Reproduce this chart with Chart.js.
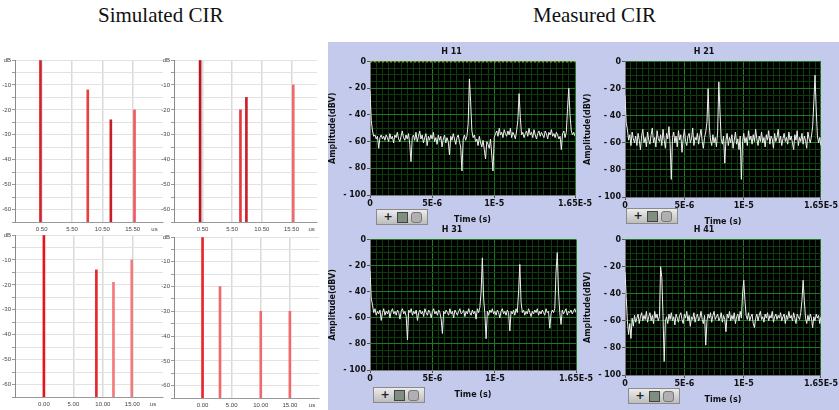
<!DOCTYPE html>
<html>
<head>
<meta charset="utf-8">
<script src="https://cdn.jsdelivr.net/npm/chart.js@4.4.0/dist/chart.umd.min.js"></script>
<style>
body { margin: 0; width: 839px; height: 410px; position: relative; background: #fff; overflow: hidden; font-family: 'Liberation Sans', Arial, sans-serif; }
canvas { position: absolute; }
.hdr { position: absolute; top: 5px; font-family: 'Liberation Serif', 'Times New Roman', serif; font-size: 21px; line-height: 1; color: #111; white-space: nowrap; }
#panel { position: absolute; left: 328px; top: 42px; width: 511px; height: 368px; background: #c4caec; }
.tool { position: absolute; height: 16px; width: 52px; background: linear-gradient(#ececec, #bdbdbd); border: 1px solid #8a8a8a; box-sizing: border-box; display: flex; align-items: center; justify-content: space-around; padding: 0 4px; }
.tool span { width: 11px; height: 11px; box-sizing: border-box; font: bold 11px 'DejaVu Sans'; line-height: 10px; text-align: center; color: #222; }
.tool span.z { background: #7f8f7f; border: 1px solid #444; }
.tool span.h { background: #b0b0b0; border: 1px solid #777; border-radius: 3px; }
</style>
</head>
<body>
<div class="hdr" style="left:98px">Simulated CIR</div>
<div class="hdr" style="left:533px">Measured CIR</div>
<div id="panel"></div>

<canvas id="sim1" width="168" height="185" style="left:0;top:50px"></canvas>
<canvas id="sim2" width="162" height="185" style="left:160px;top:50px"></canvas>
<canvas id="sim3" width="168" height="185" style="left:0;top:225px"></canvas>
<canvas id="sim4" width="162" height="185" style="left:160px;top:225px"></canvas>

<canvas id="h11" width="270" height="185" style="left:328px;top:43px"></canvas>
<canvas id="h21" width="256" height="187" style="left:583px;top:43px"></canvas>
<canvas id="h31" width="270" height="182" style="left:328px;top:221px"></canvas>
<canvas id="h41" width="256" height="187" style="left:583px;top:221px"></canvas>

<div class="tool" style="left:376px;top:209px"><span>+</span><span class="z"></span><span class="h"></span></div>
<div class="tool" style="left:626px;top:208px"><span>+</span><span class="z"></span><span class="h"></span></div>
<div class="tool" style="left:373px;top:387px"><span>+</span><span class="z"></span><span class="h"></span></div>
<div class="tool" style="left:628px;top:388px"><span>+</span><span class="z"></span><span class="h"></span></div>

<script>
// simulated CIR (delay in us, level in dB)
const DB_FLOOR = -65;
const simTopTicks = [0.5, 5.5, 10.5, 15.5];
const simBottomTicks = [0, 5, 10, 15];

const sim1Delay = [0.3, 8.1, 11.9, 15.8];
const sim1Db = [0, -12, -24, -20];
const sim1Colors = ['#d3232a', '#e8403f', '#c81f27', '#ec5a5c'];

const sim2Delay = [0.1, 6.9, 7.9, 15.8];
const sim2Db = [0, -20, -15, -10];
const sim2Colors = ['#b8161c', '#e43a3e', '#cc2027', '#f06a6c'];

const sim3Delay = [0, 8.9, 11.8, 14.9];
const sim3Db = [0, -14, -19, -10];
const sim3Colors = ['#e3161c', '#e8262b', '#f07a7c', '#f07a7c'];

const sim4Delay = [0, 3, 10, 15];
const sim4Db = [0, -20, -30, -30];
const sim4Colors = ['#e8262b', '#f06a6c', '#f06a6c', '#f06a6c'];

// measured CIR, one sample every 0.1 us, amplitude in dBV
const SAMPLE_STEP = 1e-7;
const timeLabels = { 0: '0', 10: '5E-6', 20: '1E-5', 33: '1.65E-5' };

const h11Amp = [
  -22, -44, -52, -56, -55, -58, -56, -65, -57, -55,
  -58, -56, -59, -55, -57, -60, -54, -58, -56, -61,
  -55, -57, -53, -58, -60, -56, -52, -57, -59, -55,
  -58, -54, -62, -75, -57, -55, -59, -53, -60, -56,
  -52, -58, -55, -61, -57, -54, -63, -56, -59, -55,
  -58, -53, -60, -57, -62, -55, -59, -56, -64, -58,
  -55, -61, -57, -60, -70, -56, -59, -54, -58, -62,
  -57, -55, -60, -64, -82, -58, -55, -59, -56, -47,
  -13, -30, -52, -57, -55, -60, -58, -63, -56, -61,
  -64, -59, -66, -73, -60, -62, -65, -58, -70, -82,
  -57, -54, -52, -56, -50, -55, -53, -57, -51, -54,
  -56, -52, -55, -50, -57, -53, -55, -58, -52, -44,
  -24, -42, -55, -53, -57, -54, -52, -56, -50, -55,
  -53, -57, -51, -55, -58, -54, -52, -56, -53, -55,
  -57, -52, -54, -58, -53, -55, -51, -56, -54, -57,
  -53, -55, -58, -56, -66, -54, -52, -57, -53, -35,
  -20, -40, -52, -55, -53, -56
];
const h11Ref = [0, 0]; // dotted 0 dBV marker at both ends of the record

const h21Amp = [
  -25, -45, -50, -58, -54, -62, -52, -57, -60, -55,
  -62, -53, -58, -65, -55, -50, -60, -56, -63, -52,
  -58, -61, -54, -49, -60, -56, -63, -51, -57, -59,
  -54, -62, -50, -58, -64, -53, -57, -48, -61, -87,
  -56, -52, -60, -55, -63, -51, -58, -54, -67, -57,
  -50, -59, -62, -55, -53, -60, -57, -49, -62, -56,
  -58, -53, -61, -55, -50, -59, -64, -56, -52, -45,
  -20, -48, -58, -62, -54, -60, -56, -63, -52, -15,
  -38, -57, -61, -55, -75, -58, -53, -62, -56, -60,
  -54, -64, -58, -52, -61, -57, -65, -55, -87, -59,
  -53, -60, -56, -62, -51, -58, -55, -61, -54, -59,
  -50, -57, -62, -55, -59, -52, -60, -56, -63, -54,
  -58, -51, -61, -55, -57, -64, -53, -59, -56, -50,
  -60, -55, -62, -57, -53, -59, -56, -61, -52, -58,
  -55, -60, -65, -54, -58, -51, -62, -56, -59, -53,
  -61, -55, -58, -64, -52, -57, -60, -55, -48, -30,
  -10, -35, -55, -60, -56, -62
];

const h31Amp = [
  -24, -45, -50, -56, -53, -58, -55, -57, -54, -62,
  -56, -53, -58, -55, -57, -54, -60, -55, -53, -57,
  -55, -58, -54, -56, -61, -55, -53, -57, -55, -59,
  -77, -54, -56, -53, -58, -55, -57, -54, -62, -56,
  -54, -57, -55, -59, -53, -56, -58, -54, -56, -60,
  -55, -53, -57, -55, -58, -54, -56, -61, -72, -55,
  -57, -54, -56, -58, -53, -57, -55, -60, -54, -56,
  -58, -55, -53, -57, -56, -54, -59, -55, -57, -53,
  -56, -58, -54, -57, -55, -61, -53, -56, -52, -40,
  -14, -45, -57, -76, -55, -58, -54, -56, -53, -57,
  -55, -58, -54, -56, -60, -55, -53, -57, -55, -58,
  -54, -56, -70, -55, -57, -54, -58, -53, -56, -40,
  -19, -48, -56, -54, -58, -55, -57, -53, -56, -59,
  -55, -57, -54, -56, -53, -58, -55, -57, -54, -56,
  -58, -53, -56, -55, -68, -57, -54, -56, -53, -25,
  -10, -40, -56, -65, -54, -57, -55, -53, -58, -55,
  -56, -54, -57, -55, -53, -56
];

const h41Amp = [
  -24, -42, -60, -70, -62, -73, -58, -64, -56, -61,
  -58, -55, -62, -57, -54, -60, -56, -59, -53, -61,
  -57, -54, -60, -56, -62, -53, -58, -55, -60, -57,
  -20, -28, -56, -90, -60, -57, -62, -55, -59, -54,
  -60, -57, -63, -55, -58, -61, -56, -54, -59, -62,
  -55, -58, -53, -60, -56, -64, -57, -59, -54, -61,
  -57, -55, -60, -58, -53, -59, -62, -56, -78, -60,
  -55, -58, -54, -61, -56, -53, -59, -57, -55, -60,
  -58, -54, -61, -56, -59, -68, -55, -58, -53, -60,
  -56, -59, -54, -62, -57, -55, -60, -53, -58, -40,
  -30, -45, -56, -59, -54, -60, -57, -55, -62, -65,
  -58, -55, -60, -56, -53, -59, -57, -61, -55, -58,
  -54, -60, -56, -58, -53, -61, -57, -55, -59, -56,
  -58, -54, -60, -57, -55, -62, -56, -59, -53, -58,
  -56, -60, -54, -58, -62, -55, -57, -59, -54, -45,
  -30, -45, -58, -62, -56, -60, -55, -58, -65, -57,
  -60, -55, -58, -56, -62, -57
];

const tinyFont = { family: "'Liberation Sans', Arial, sans-serif", size: 6 };
const lvFont = { family: "'DejaVu Sans', Verdana, sans-serif", size: 8, weight: 'bold' };

function simChart(id, delay, db, colors, ticks, unitPos, xMin, xMax, yWidth, xHeight, pad) {
  new Chart(document.getElementById(id), {
    type: 'bar',
    data: {
      datasets: [{
        data: delay.map((t, i) => ({ x: t, y: [DB_FLOOR, db[i]] })),
        backgroundColor: colors,
        barThickness: 2,
        borderWidth: 0
      }]
    },
    options: {
      responsive: false, animation: false, devicePixelRatio: 1,
      layout: { padding: pad },
      plugins: { legend: { display: false }, tooltip: { enabled: false } },
      scales: {
        x: {
          type: 'linear', min: xMin, max: xMax, offset: false,
          afterBuildTicks: s => { s.ticks = ticks.concat([unitPos]).map(v => ({ value: v })); },
          afterFit: s => { s.height = xHeight; },
          grid: { offset: false, color: c => (c.tick && c.tick.value === unitPos) ? 'rgba(0,0,0,0)' : '#dadada', lineWidth: 1.5, drawTicks: false },
          border: { color: '#9a9a9a' },
          ticks: { autoSkip: false, maxRotation: 0, padding: 4, color: '#444', font: tinyFont,
                   callback: v => v === unitPos ? 'us' : v.toFixed(2) }
        },
        y: {
          min: DB_FLOOR, max: 0,
          afterBuildTicks: s => { const t = []; for (let v = DB_FLOOR; v <= 0; v += 5) t.push({ value: v }); s.ticks = t; },
          afterFit: s => { s.width = yWidth; },
          grid: { color: '#e2e2e2', tickLength: 3, tickColor: '#9a9a9a' },
          border: { color: '#8a8a8a' },
          ticks: { autoSkip: false, padding: 1, color: '#444', font: tinyFont,
                   callback: v => v === 0 ? 'dB' : (v % 10 === 0 ? String(v) : '') }
        }
      }
    }
  });
}

simChart('sim1', sim1Delay, sim1Db, sim1Colors, simTopTicks, 19.1, -3.9, 20.5, 15, 13, { top: 10, right: 5 });
simChart('sim2', sim2Delay, sim2Db, sim2Colors, simTopTicks, 18.9, -4.3, 19.8, 14, 13, { top: 10, right: 5 });
simChart('sim3', sim3Delay, sim3Db, sim3Colors, simBottomTicks, 18.5, -4.9, 20.2, 15, 13, { top: 10, right: 5 });
simChart('sim4', sim4Delay, sim4Db, sim4Colors, simBottomTicks, 18.8, -4.9, 20.0, 14, 12, { top: 12, right: 3 });

const blackPlot = {
  id: 'blackPlot',
  beforeDraw(chart) {
    const a = chart.chartArea;
    chart.ctx.save();
    chart.ctx.fillStyle = '#000';
    chart.ctx.fillRect(a.left, a.top, a.right - a.left, a.bottom - a.top);
    chart.ctx.restore();
  }
};

function cirChart(id, title, amp, ref, padRight) {
  const datasets = [{
    data: amp.map((v, i) => ({ x: i * SAMPLE_STEP, y: v })),
    borderColor: '#f0f0f0', borderWidth: 1, pointRadius: 0, tension: 0
  }];
  if (ref) {
    datasets.push({
      data: [{ x: 0, y: ref[0] }, { x: 33 * 5e-7, y: ref[1] }],
      borderColor: '#d8c800', borderWidth: 1.5, borderDash: [2, 2], pointRadius: 0
    });
  }
  new Chart(document.getElementById(id), {
    type: 'line',
    data: { datasets },
    plugins: [blackPlot],
    options: {
      responsive: false, animation: false, devicePixelRatio: 1,
      layout: { padding: { right: padRight } },
      plugins: {
        legend: { display: false }, tooltip: { enabled: false },
        title: { display: true, text: title, color: '#111', font: lvFont, padding: { top: 4, bottom: 5 } }
      },
      scales: {
        x: {
          type: 'linear', min: 0, max: 33 * 5e-7,
          afterBuildTicks: s => { const t = []; for (let k = 0; k <= 33; k++) t.push({ value: k * 5e-7 }); s.ticks = t; },
          afterFit: s => { s.height = 33; },
          grid: {
            color: c => timeLabels[c.index] !== undefined ? '#1d7a1d' : '#0d3d0d',
            tickColor: c => timeLabels[c.index] !== undefined ? '#555' : 'rgba(0,0,0,0)',
            tickLength: 3
          },
          border: { color: '#777' },
          title: { display: true, text: 'Time (s)', color: '#111', font: lvFont, padding: { top: 0, bottom: 3 } },
          ticks: { autoSkip: false, maxRotation: 0, padding: 1, color: '#111', font: lvFont,
                   callback: (v, i) => timeLabels[i] !== undefined ? timeLabels[i] : '' }
        },
        y: {
          min: -100, max: 0,
          afterBuildTicks: s => { const t = []; for (let v = -100; v <= 0; v += 5) t.push({ value: v }); s.ticks = t; },
          afterFit: s => { s.width = 42; },
          grid: {
            color: c => (c.tick && c.tick.value % 20 === 0) ? '#1d7a1d' : '#0d3d0d',
            tickColor: c => (c.tick && c.tick.value % 20 === 0) ? '#555' : 'rgba(0,0,0,0)',
            tickLength: 3
          },
          border: { color: '#777' },
          title: { display: true, text: 'Amplitude(dBV)', color: '#111', font: lvFont, padding: { top: 0, bottom: 2 } },
          ticks: { autoSkip: false, padding: 1, color: '#111', font: lvFont,
                   callback: v => v % 20 === 0 ? (v === 0 ? '0' : '- ' + Math.abs(v)) : '' }
        }
      }
    }
  });
}

cirChart('h11', 'H 11', h11Amp, h11Ref, 23);
cirChart('h21', 'H 21', h21Amp, null, 14);
cirChart('h31', 'H 31', h31Amp, null, 22);
cirChart('h41', 'H 41', h41Amp, null, 14);
</script>
</body>
</html>
